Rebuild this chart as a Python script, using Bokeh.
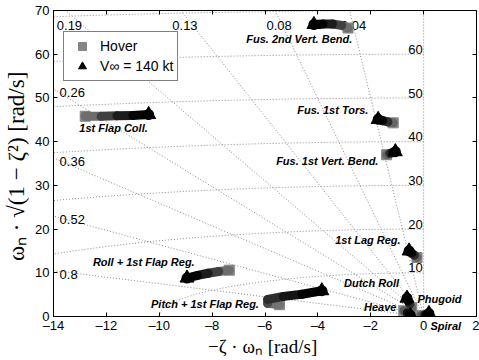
import numpy as np
from bokeh.plotting import figure
from bokeh.models import Range1d, FixedTicker, LinearAxis, Label, Legend, LegendItem, Title
from bokeh.core.properties import value
from bokeh.embed import file_html
from bokeh.resources import INLINE

# s-plane grid: damping ratios (labelled along top / left edge) and natural frequencies
zeta_top = [0.19, 0.13, 0.08, 0.04]
zeta_left = [0.26, 0.36, 0.52, 0.8]
wn_rings = [10, 20, 30, 40, 50, 60, 70]
wn_labels = [10, 20, 30, 40, 50, 60]

x_ticks = [-14, -12, -10, -8, -6, -4, -2, 0, 2]
y_ticks = [0, 10, 20, 30, 40, 50, 60, 70]

# eigenvalue loci from hover to 140 kt: real part (-zeta*wn) and imaginary part
flap_coll_re = [-12.8, -12.2, -11.6, -11.0, -10.4]
flap_coll_im = [45.8, 45.8, 45.9, 46.0, 46.2]
fus_bend2_re = [-2.86, -3.1, -3.45, -3.8, -4.15]
fus_bend2_im = [66.0, 66.6, 66.9, 66.9, 66.8]
fus_tors_re = [-1.15, -1.35, -1.55, -1.72]
fus_tors_im = [44.3, 44.5, 44.8, 45.1]
fus_bend1_re = [-1.40, -1.28, -1.17, -1.07]
fus_bend1_im = [37.0, 37.3, 37.5, 37.7]
lag_reg_re = [-0.25, -0.35, -0.45, -0.55]
lag_reg_im = [13.5, 14.0, 14.5, 15.0]
roll_re = [-7.35, -7.75, -8.15, -8.55, -8.95]
roll_im = [10.6, 10.3, 9.9, 9.4, 8.8]
pitch_re = [-5.45, -5.9, -5.9, -5.3, -4.6, -3.85]
pitch_im = [2.7, 3.0, 3.9, 4.6, 5.1, 5.9]
dutch_re = [-0.45, -0.52, -0.58, -0.63]
dutch_im = [2.0, 2.8, 3.5, 4.2]
heave_re = [-0.75, -0.62, -0.5]
heave_im = [1.3, 0.8, 0.25]
phugoid_re = [-0.1, 0.05, 0.2]
phugoid_im = [0.2, 0.35, 0.7]

loci = [
    (flap_coll_re, flap_coll_im), (fus_bend2_re, fus_bend2_im),
    (fus_tors_re, fus_tors_im), (fus_bend1_re, fus_bend1_im),
    (lag_reg_re, lag_reg_im), (roll_re, roll_im), (pitch_re, pitch_im),
    (dutch_re, dutch_im), (heave_re, heave_im), (phugoid_re, phugoid_im),
]

mode_names = ["Fus. 2nd Vert. Bend.", "1st Flap Coll.", "Fus. 1st Tors.",
              "Fus. 1st Vert. Bend.", "1st Lag Reg.", "Roll + 1st Flap Reg.",
              "Pitch + 1st Flap Reg.", "Dutch Roll", "Heave", "Phugoid"]
name_x = [-2.7, -11.73, -2.09, -1.71, -0.87, -8.66, -6.23, -0.93, -1.03, -0.235]
name_y = [63.4, 43.2, 47.3, 35.5, 17.5, 12.4, 2.9, 7.6, 2.1, 3.9]
name_align = ["right", "center", "right", "right", "right", "right", "right",
              "right", "right", "left"]
# the spiral root sits on the real axis; its name hangs just under the frame
spiral_name = "Spiral"

SANS = "Liberation Sans"
SERIF = "Liberation Serif"

p = figure(width=479, height=360, output_backend="svg", toolbar_location=None,
           x_range=Range1d(-14, 2), y_range=Range1d(0, 70),
           min_border_left=53, min_border_right=3, min_border_top=10, min_border_bottom=44)
p.grid.visible = False
p.outline_line_color = "black"
p.background_fill_color = "white"
p.border_fill_color = "white"

# main axes
for ax, ticks in ((p.xaxis[0], x_ticks), (p.yaxis[0], y_ticks)):
    ax.ticker = FixedTicker(ticks=ticks)
    ax.major_tick_in = 4
    ax.major_tick_out = 0
    ax.minor_tick_line_color = None
    ax.axis_line_color = "black"
    ax.major_tick_line_color = "black"
    ax.major_label_text_font = SANS
    ax.major_label_text_font_size = "13px"
    ax.major_label_text_color = "black"
    ax.axis_label_text_font = SERIF
    ax.axis_label_text_font_style = "normal"
    ax.axis_label_text_color = "black"

p.xaxis[0].major_label_overrides = {t: str(t).replace("-", "\u2013") for t in x_ticks}
p.xaxis[0].major_label_standoff = 1
p.yaxis[0].major_label_standoff = 4
p.xaxis[0].axis_label = "\u2212\u03b6 \u00b7 \u03c9\u2099  [rad/s]"
p.yaxis[0].axis_label = "\u03c9\u2099 \u00b7 \u221a(1 \u2212 \u03b6\u00b2)  [rad/s]"
p.xaxis[0].axis_label_text_font_size = "19px"
p.yaxis[0].axis_label_text_font_size = "23px"
p.xaxis[0].axis_label_standoff = 0
p.yaxis[0].axis_label_standoff = 3

# tick marks on the opposite sides of the box (no labels there)
for side, ticks in (("above", x_ticks), ("right", y_ticks)):
    ax = LinearAxis(ticker=FixedTicker(ticks=ticks), major_tick_in=4, major_tick_out=0,
                    minor_tick_line_color=None, major_label_text_font_size="1px",
                    major_label_text_color=None, major_label_standoff=0,
                    axis_line_color="black")
    p.add_layout(ax, side)

grid_style = dict(line_color="#8a8a8a", line_width=1, line_dash="1 2")

# constant-damping rays
for z in zeta_top + zeta_left + [0.0]:
    r = 200.0
    p.line([0, -r * z], [0, r * np.sqrt(1 - z * z)], **grid_style)

# constant natural-frequency arcs
th = np.linspace(np.pi / 2, np.pi, 300)
for wn in wn_rings:
    p.line(wn * np.cos(th), wn * np.sin(th), **grid_style)

# grid labels
txt = dict(text_font=value(SANS), text_font_size="13px", text_color="black")
p.text(x=[-70 * z / np.sqrt(1 - z * z) + 0.15 for z in zeta_top], y=[66.6] * len(zeta_top),
       text=[f"{z:g}" for z in zeta_top], text_align="center", text_baseline="middle", **txt)
p.text(x=[-13.77] * len(zeta_left), y=[14 * np.sqrt(1 - z * z) / z - 0.8 for z in zeta_left],
       text=[f"{z:g}" for z in zeta_left], text_align="left", text_baseline="middle", **txt)
p.text(x=[-0.03] * len(wn_labels), y=[wn + 1.1 for wn in wn_labels],
       text=[f"{wn}" for wn in wn_labels], text_align="right", text_baseline="alphabetic", **txt)


def shade(t):
    g = int(round(135 * (1 - t) ** 1.6))
    return "#{0:02x}{0:02x}{0:02x}".format(g)


# hover poles
sq = p.scatter([re[0] for re, im in loci], [im[0] for re, im in loci],
               marker="square", size=10, fill_color="#858585", line_color="#858585")

# locus bands from hover to 140 kt
for re, im in loci:
    n = len(re)
    xs = [[re[i], re[i + 1]] for i in range(n - 1)]
    ys = [[im[i], im[i + 1]] for i in range(n - 1)]
    cols = [shade((i + 0.5) / (n - 1)) for i in range(n - 1)]
    p.multi_line(xs, ys, line_color=cols, line_width=9, line_cap="round")

# 140 kt poles
tri = p.scatter([re[-1] for re, im in loci], [im[-1] for re, im in loci],
                marker="triangle", size=14, fill_color="black", line_color="black")
p.scatter([re[-1] for re, im in loci], [im[-1] for re, im in loci],
          marker="circle", size=7, fill_color=None, line_color="black", line_width=4)

name_style = dict(text_font=SANS, text_font_size="11px", text_font_style="bold italic",
                  text_color="black")
for t, x, y, a in zip(mode_names, name_x, name_y, name_align):
    p.add_layout(Label(x=x, y=y, text=t, text_align=a, text_baseline="middle", **name_style))

# spiral name sits under the frame edge, so it goes in the bottom panel
p.add_layout(Title(text=spiral_name, align="left", vertical_align="top", offset=377,
                   standoff=-80, **name_style), "below")

legend = Legend(items=[LegendItem(label="Hover", renderers=[sq]),
                       LegendItem(label="V\u221e = 140 kt", renderers=[tri])],
                location=(10, 235), padding=4, spacing=0, glyph_width=28, glyph_height=20,
                label_height=20, label_standoff=4, label_text_font=SANS,
                label_text_font_size="14px", label_text_color="black",
                border_line_color="black", border_line_width=1,
                background_fill_color="white", background_fill_alpha=1.0, margin=0)
p.add_layout(legend)

open("out.html", "w").write(file_html(p, INLINE))
